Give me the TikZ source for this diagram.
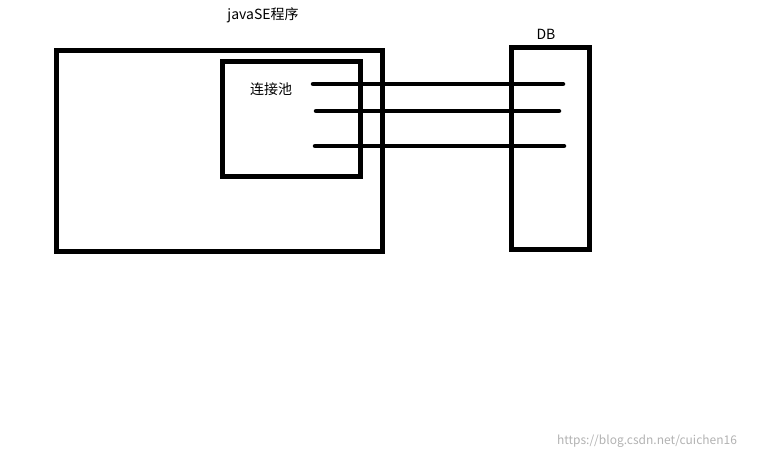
\documentclass[tikz,border=0pt]{standalone}
\usepackage{fontspec}
\setmainfont{Noto Sans CJK SC}
\begin{document}
\begin{tikzpicture}[x=1pt,y=-1pt,
  box/.style={draw=black,line width=5pt},
  conn/.style={draw=black,line width=4.5pt,line cap=round},
  lbl/.style={font=\fontsize{14}{16}\selectfont,inner sep=0pt}]
\useasboundingbox (0,0) rectangle (768,460);
\draw[box] (56,51) rectangle (382,251);
\draw[box] (222,62) rectangle (360,176);
\draw[box] (511,48) rectangle (589,249);
\node[lbl] (t1) at (263,15) {javaSE程序};
\node[lbl] (t2) at (546,34) {DB};
\node[lbl] (t3) at (271,89) {连接池};
\coordinate (a1) at (313,84); \coordinate (b1) at (563,84);
\coordinate (a2) at (316,111); \coordinate (b2) at (559,111);
\coordinate (a3) at (315,146); \coordinate (b3) at (564,146);
\draw[conn] (a1) -- (b1);
\draw[conn] (a2) -- (b2);
\draw[conn] (a3) -- (b3);
\node[lbl,font=\fontsize{12}{14}\selectfont,text=black!30] (wm) at (647,441) {https://blog.csdn.net/cuichen16};
\end{tikzpicture}
\end{document}
